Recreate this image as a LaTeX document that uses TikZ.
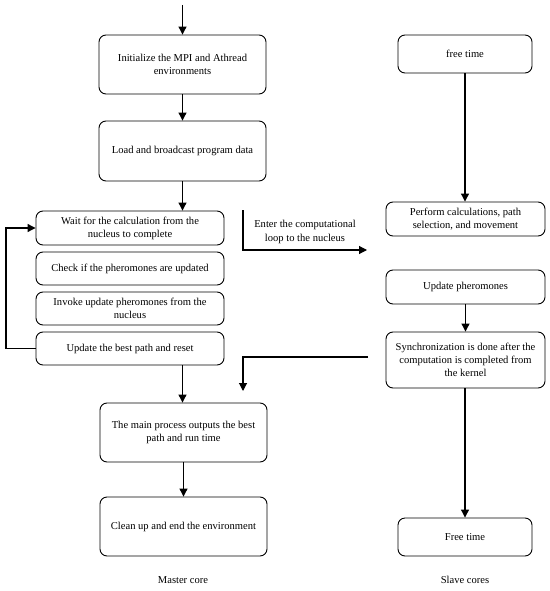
\documentclass[tikz,border=0pt]{standalone}
\usepackage{fontspec}
\setmainfont{Liberation Serif}
\usetikzlibrary{arrows.meta}
\begin{document}
\begin{tikzpicture}[x=1bp,y=-1bp,
  box/.style={draw, line width=0.9bp, rounded corners=7bp, align=center, inner sep=0pt, font=\fontsize{10.6}{13.2}\selectfont},
  arr/.style={line width=1.1bp, -{Triangle[length=8bp,width=8bp]}},
  lab/.style={align=center, font=\fontsize{10.6}{13.2}\selectfont}]
\useasboundingbox (0,0) rectangle (550,591);
% left column
\node[box, minimum width=167bp, minimum height=59bp] (init) at (182.5,64.5) {Initialize the MPI and Athread\\environments};
\node[box, minimum width=167bp, minimum height=60bp] (load) at (182.5,151) {Load and broadcast program data};
\node[box, minimum width=188bp, minimum height=34bp] (wait) at (130,228) {Wait for the calculation from the\\nucleus to complete};
\node[box, minimum width=188bp, minimum height=33bp] (check) at (130,268.5) {Check if the pheromones are updated};
\node[box, minimum width=188bp, minimum height=33bp] (invoke) at (130,308.5) {Invoke update pheromones from the\\nucleus};
\node[box, minimum width=188bp, minimum height=33bp] (best) at (130,348.5) {Update the best path and reset};
\node[box, minimum width=167bp, minimum height=59bp] (mainp) at (183.5,432.5) {The main process outputs the best\\path and run time};
\node[box, minimum width=167bp, minimum height=59bp] (clean) at (183.5,526.5) {Clean up and end the environment};
\node[lab] (master) at (183,580) {Master core};
% right column
\node[box, minimum width=134bp, minimum height=38bp] (free1) at (465,54) {free time};
\node[box, minimum width=159bp, minimum height=34bp] (perform) at (465.5,219) {Perform calculations, path\\selection, and movement};
\node[box, minimum width=159bp, minimum height=34bp] (updph) at (465.5,287) {Update pheromones};
\node[box, minimum width=159bp, minimum height=56bp] (sync) at (465.5,360) {Synchronization is done after the\\computation is completed from\\the kernel};
\node[box, minimum width=134bp, minimum height=38bp] (free2) at (465,537) {Free time};
\node[lab] (slave) at (465,580) {Slave cores};
% connectors
\coordinate (start) at (182.5,5);
\draw[arr] (start) -- (init.north);
\draw[arr] (init) -- (load);
\draw[arr] (load.south) -- (load.south |- wait.north);
\coordinate (bestout) at (182.5,365);
\draw[arr] (bestout) -- (bestout |- mainp.north);
\draw[arr] (mainp) -- (clean);
\coordinate (loopl) at (6,228);
\draw[arr] (best.west) -- (best.west -| loopl) -- (loopl) -- (wait.west);
\draw[arr] (free1) -- (free1 |- perform.north);
\draw[arr] (updph) -- (sync);
\draw[arr] (sync.south -| free2) -- (free2.north);
% middle connectors
\coordinate (e1) at (243,210);
\coordinate (e2) at (243,250);
\coordinate (e3) at (367,250);
\draw[arr] (e1) -- (e2) -- (e3);
\node[lab] (enterlab) at (305,232) {Enter the computational\\loop to the nucleus};
\coordinate (s1) at (368,357);
\coordinate (s2) at (243,357);
\coordinate (s3) at (243,391);
\draw[arr] (s1) -- (s2) -- (s3);
\end{tikzpicture}
\end{document}
